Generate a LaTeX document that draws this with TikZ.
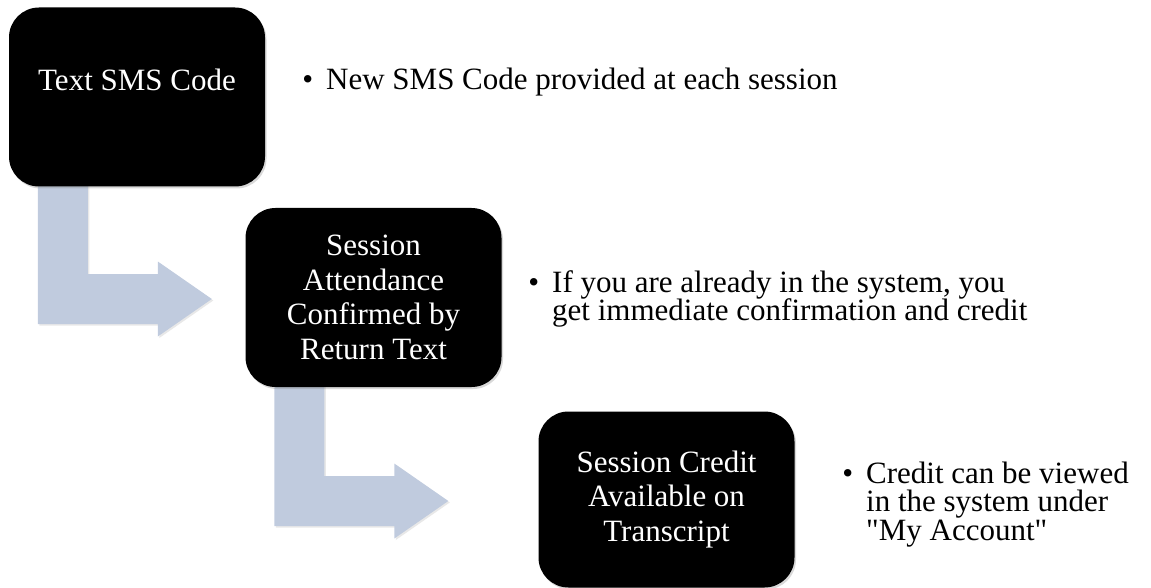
\documentclass[tikz,border=0pt]{standalone}
\usepackage{fontspec}
\setmainfont{Liberation Serif}
\usetikzlibrary{calc,shadows}
\definecolor{arrowblue}{RGB}{192,203,222}
\tikzset{
  stepbox/.style={fill=black, text=white, rounded corners=30pt,
    minimum width=256pt, minimum height=179pt, align=center, inner sep=0pt,
    font=\fontsize{31}{34.5}\selectfont,
    drop shadow={opacity=0.3, shadow xshift=1.5pt, shadow yshift=-2pt}},
  steptext/.style={text=white, inner sep=0pt, anchor=base,
    font=\fontsize{31}{34.5}\selectfont},
  bentarrow/.style={fill=arrowblue, draw=none,
    drop shadow={opacity=0.18, shadow xshift=1.5pt, shadow yshift=-1.5pt}},
  bullettext/.style={anchor=base west, inner sep=0pt,
    font=\fontsize{31}{28.5}\selectfont}
}
\newcommand{\bulletlines}[2]{\parbox[t]{#1}{\lineskiplimit=-100pt\raggedright\leavevmode\llap{•\hspace{13pt}}#2}}
\newcommand{\sq}{\XeTeXglyph\XeTeXcharglyph"22\relax}
\begin{document}
\begin{tikzpicture}[x=1pt,y=-1pt]
\useasboundingbox (0,0) rectangle (1151,588);

% box positions (invisible, to place the arrows)
\path (137,97) node[minimum width=256pt, minimum height=179pt] (b1) {};
\path (373.5,297.5) node[minimum width=256pt, minimum height=179pt] (b2) {};
\path (666.5,499.5) node[minimum width=256pt, minimum height=176pt] (b3) {};

\coordinate (a1s) at ($(b1.south west)+(54,-20)$);
\coordinate (a1e) at ({$(b1.south west)+(203,0)$} |- {$(b2.west)+(0,1.5)$});
\coordinate (a2s) at ($(b2.south west)+(54,-20)$);
\coordinate (a2e) at ({$(b2.south west)+(203,0)$} |- {$(b3.west)+(0,1.5)$});

% bent arrows (under the boxes)
\foreach \s/\e in {a1s/a1e, a2s/a2e}{
  \fill[bentarrow] ($(\s)+(-25,0)$) -- ($(\s)+(25,0)$)
    -- ($(\s |- \e)+(25,-25)$) -- ($(\e)+(-54,-25)$) -- ($(\e)+(-54,-37.5)$)
    -- (\e) -- ($(\e)+(-54,37.5)$) -- ($(\e)+(-54,25)$)
    -- ($(\s |- \e)+(-25,25)$) -- cycle;
}

% boxes
\path (137,97) node[stepbox] (b1) {};
\path (373.5,297.5) node[stepbox] (b2) {Session\\Attendance\\Confirmed by\\Return Text};
\path (666.5,499.5) node[stepbox, minimum height=176pt] (b3) {Session Credit\\Available on\\Transcript};
\node[steptext] (t1) at (137,91) {Text SMS Code};

% bullet texts
\node[bullettext] (n1) at (326,90) {\bulletlines{600pt}{New SMS Code provided at each session}};
\node[bullettext] (n2) at (552,292) {\bulletlines{560pt}{If you are already in the system, you\\get immediate confirmation and credit}};
\node[bullettext] (n3) at (866,483) {\bulletlines{300pt}{Credit can be viewed\\in the system under\\\sq My Account\sq}};
\end{tikzpicture}
\end{document}
